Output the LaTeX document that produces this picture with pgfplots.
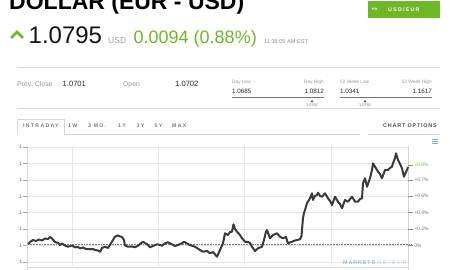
\documentclass[border=0pt]{standalone}
\usepackage{fontspec}
\setmainfont{Liberation Sans}
\newfontfamily\lsa[LetterSpace=25]{Liberation Sans}
\newfontfamily\lsb[LetterSpace=15]{Liberation Sans}
\newfontfamily\lsc[LetterSpace=18]{Liberation Sans}
\newfontfamily\lsd[LetterSpace=34]{Liberation Sans}
\newfontfamily\arrowfont{DejaVu Sans}
\usepackage{pgfplots}
\pgfplotsset{compat=1.18}
\definecolor{bigreen}{RGB}{110,184,40}
\definecolor{pline}{RGB}{58,58,58}
\definecolor{gridc}{RGB}{229,229,229}
\definecolor{rulec}{RGB}{214,214,214}
\definecolor{lblc}{RGB}{150,150,150}
\definecolor{tabc}{RGB}{120,120,120}
\definecolor{wmA}{RGB}{140,182,224}
\definecolor{wmB}{RGB}{170,203,236}
\pgfplotstableread{
x p
28.3 1.07015
30 1.07043
33 1.07067
36 1.07055
39 1.07073
42 1.07061
45 1.07085
48 1.07079
50 1.07104
52 1.07085
55 1.07043
58 1.07030
60 1.07006
62 1.07024
65 1.07000
68 1.06985
72 1.07000
75 1.06978
78 1.06982
80 1.06966
83 1.06976
86 1.06957
90 1.06954
93 1.06957
95 1.06945
98 1.06939
100 1.06924
102 1.06970
105 1.06985
108 1.06970
111 1.07027
113 1.07067
115 1.07107
118 1.07122
120 1.07110
122 1.07104
124 1.07067
125 1.07000
128 1.06985
132 1.06988
135 1.06978
138 1.06998
140 1.07018
143 1.07046
147 1.07015
150 1.06978
153 1.06994
157 1.07015
160 1.07006
162 1.06998
165 1.07027
168 1.07039
172 1.07015
175 1.06994
178 1.07006
182 1.07027
184 1.07046
187 1.07024
190 1.07006
195 1.06985
200 1.06945
203 1.06924
207 1.06933
210 1.06905
213 1.06921
217 1.06863
220 1.06945
223 1.07027
225 1.07149
228 1.07128
230 1.07165
232 1.07168
233.5 1.07259
235 1.07201
237 1.07168
240 1.07128
242 1.07088
245 1.07046
248 1.07043
250 1.07030
252 1.06985
255 1.06933
258 1.06966
262 1.06985
264 1.07067
266 1.07168
267 1.07189
270 1.07088
273 1.07128
277 1.07149
280 1.07107
283 1.07088
286 1.07104
288 1.07027
292 1.07046
295 1.07061
297 1.07067
300 1.07076
301.5 1.07116
302 1.07189
303 1.07335
304 1.07396
305 1.07433
307 1.07515
309 1.07555
310 1.07576
312 1.07637
313 1.07555
315 1.07604
317 1.07616
318 1.07644
320 1.07604
322 1.07595
325 1.07637
328 1.07576
330 1.07543
332 1.07494
335 1.07595
338 1.07534
340 1.07506
342 1.07454
345 1.07555
348 1.07534
352 1.07595
355 1.07534
358 1.07534
360 1.07567
362 1.07576
363 1.07759
365 1.07820
367 1.07717
370 1.07820
372 1.07921
373 1.08002
375 1.07961
378 1.07900
380 1.07872
382 1.07820
385 1.07921
388 1.07921
390 1.07945
392 1.07961
393 1.08002
395 1.08067
396 1.08124
398 1.08043
400 1.07994
402 1.07941
404 1.07839
406 1.07896
407 1.07921
408 1.07957
}\pricedata
\pgfplotsset{
  pageaxis/.style={
    at={(27.7pt,-266pt)}, anchor=south west,
    scale only axis, width=380.6pt, height=120pt,
    xmin=27.7, xmax=408.3, ymin=1.0675, ymax=1.082134,
    axis line style={draw=none},
    tick align=outside,
  }
}
\begin{document}
\begin{tikzpicture}[x=1pt,y=1pt]
\useasboundingbox (0,0) rectangle (450,-270);
\clip (0,0) rectangle (450,-270);
\begin{scope}[y=-1pt]
% title
\node[anchor=base west,inner sep=0,font=\fontsize{23}{23}\selectfont\bfseries] at (9,10) {DOLLAR (EUR - USD)};
% button
\fill[bigreen] (368,1) rectangle (440,18);
\node[anchor=base west,inner sep=0,text=white,font=\fontsize{7}{7}\selectfont\arrowfont] at (371.5,11.5) {↔};
\node[anchor=base west,inner sep=0,text=white,font=\fontsize{5.2}{5.2}\selectfont\lsa\bfseries] at (388,11.3) {USD/EUR};
% price row
\draw[bigreen,line width=2.8pt,line cap=butt,line join=miter] (11,38) -- (17,32) -- (23,38);
\node[anchor=base west,inner sep=0,text=black!92,font=\fontsize{24}{24}\selectfont] at (28.5,43.3) {1.0795};
\node[anchor=base west,inner sep=0,text=black!38,font=\fontsize{8.5}{8.5}\selectfont] at (108,43.3) {USD};
\node[anchor=base west,inner sep=0,text=bigreen,font=\fontsize{18}{18}\selectfont] at (133.5,43.3) {0.0094 (0.88\%)};
\node[anchor=base west,inner sep=0,text=black!45,font=\fontsize{5.6}{5.6}\selectfont] at (264,43.3) {11:36:05 AM EST};
\draw[rulec,line width=0.7pt] (17,67.3) -- (440,67.3);
% stats row
\node[anchor=base west,inner sep=0,text=lblc,font=\fontsize{6.8}{6.8}\selectfont] at (17,86) {Prev. Close};
\node[anchor=base west,inner sep=0,text=black!85,font=\fontsize{7.6}{7.6}\selectfont] at (62.5,86) {1.0701};
\node[anchor=base west,inner sep=0,text=lblc,font=\fontsize{6.8}{6.8}\selectfont] at (123,86) {Open};
\node[anchor=base west,inner sep=0,text=black!85,font=\fontsize{7.6}{7.6}\selectfont] at (175,86) {1.0702};
\node[anchor=base west,inner sep=0,text=lblc,font=\fontsize{4.8}{4.8}\selectfont] at (232,83.5) {Day Low};
\node[anchor=base east,inner sep=0,text=lblc,font=\fontsize{4.8}{4.8}\selectfont] at (324,83.5) {Day High};
\node[anchor=base west,inner sep=0,text=black!85,font=\fontsize{6.3}{6.3}\selectfont] at (232,93.5) {1.0685};
\node[anchor=base east,inner sep=0,text=black!85,font=\fontsize{6.3}{6.3}\selectfont] at (324,93.5) {1.0812};
\draw[black!55,line width=1.6pt] (232,97.5) -- (324,97.5);
\fill[black!70] (310.6,102) -- (312,100) -- (313.4,102) -- cycle;
\node[anchor=base,inner sep=0,text=black!55,font=\fontsize{3.8}{3.8}\selectfont] at (312,106.8) {1.0792};
\node[anchor=base west,inner sep=0,text=lblc,font=\fontsize{4.8}{4.8}\selectfont] at (340,83.5) {52 Week Low};
\node[anchor=base east,inner sep=0,text=lblc,font=\fontsize{4.8}{4.8}\selectfont] at (432,83.5) {52 Week High};
\node[anchor=base west,inner sep=0,text=black!85,font=\fontsize{6.3}{6.3}\selectfont] at (340,93.5) {1.0341};
\node[anchor=base east,inner sep=0,text=black!85,font=\fontsize{6.3}{6.3}\selectfont] at (432,93.5) {1.1617};
\draw[black!55,line width=1.6pt] (340,97.5) -- (432,97.5);
\fill[black!70] (363.6,102) -- (365,100) -- (366.4,102) -- cycle;
\node[anchor=base,inner sep=0,text=black!55,font=\fontsize{3.8}{3.8}\selectfont] at (365,106.8) {1.0792};
\draw[rulec,line width=0.6pt] (17,108.3) -- (440,108.3);
% tabs
\draw[rulec,line width=0.6pt] (17.5,134.3) -- (17.5,119) -- (64.3,119) -- (64.3,134.3) -- (360,134.3);
\draw[rulec,line width=0.6pt] (368,134.3) -- (440,134.3);
\node[anchor=base west,inner sep=0,text=tabc,font=\fontsize{5.2}{5.2}\selectfont\lsa\bfseries] at (23,128) {INTRADAY};
\node[anchor=base west,inner sep=0,text=tabc,font=\fontsize{5.2}{5.2}\selectfont\lsa\bfseries] at (68,128) {1W};
\node[anchor=base west,inner sep=0,text=tabc,font=\fontsize{5.2}{5.2}\selectfont\lsa\bfseries] at (88,128) {3 MO.};
\node[anchor=base west,inner sep=0,text=tabc,font=\fontsize{5.2}{5.2}\selectfont\lsa\bfseries] at (118,128) {1Y};
\node[anchor=base west,inner sep=0,text=tabc,font=\fontsize{5.2}{5.2}\selectfont\lsa\bfseries] at (136.5,128) {3Y};
\node[anchor=base west,inner sep=0,text=tabc,font=\fontsize{5.2}{5.2}\selectfont\lsa\bfseries] at (154.5,128) {5Y};
\node[anchor=base west,inner sep=0,text=tabc,font=\fontsize{5.2}{5.2}\selectfont\lsa\bfseries] at (172,128) {MAX};
\node[anchor=base east,inner sep=0,text=black!70,font=\fontsize{5.4}{5.4}\selectfont\lsb\bfseries] at (437,128) {CHART OPTIONS};
% menu icon
\foreach \yy in {139.5,141.5,143.5} \draw[wmA!80!gray,line width=0.9pt] (432,\yy) -- (438,\yy);
% navigator box
\draw[rulec,line width=0.6pt] (27.7,275) -- (27.7,267.2) -- (408.3,267.2) -- (408.3,275);
\end{scope}
% main axis
\begin{axis}[
  pageaxis,
  clip=false,
  xtick={72,158,244.5,331}, xticklabels={},
  major x tick style={draw=none},
  ytick pos=left,
  ytick={1.068,1.070,1.072,1.074,1.076,1.078,1.080,1.082},
  yticklabels={1,1,1,1,1,1,1,1},
  major tick length=4.5pt,
  major y tick style={draw=black!35,line width=0.5pt},
  yticklabel style={font=\fontsize{5}{5}\selectfont,text=black!60,inner sep=1pt},
  grid=major, major grid style={draw=gridc,line width=0.6pt},
]
\draw[rulec,line width=0.6pt] (rel axis cs:0,0) -- (rel axis cs:0,1);
\draw[rulec,line width=0.6pt] (rel axis cs:1,0) -- (rel axis cs:1,1);
\draw[black!50,line width=0.6pt,dash pattern=on 1.8pt off 1pt] (axis cs:27.7,1.0701) -- (axis cs:411.8,1.0701);
\addplot[pline,line width=2pt,line join=round,no markers] table[x=x,y=p] {\pricedata};
\node[anchor=base west,inner sep=0,font=\fontsize{5.3}{5.3}\selectfont\lsc\bfseries,text=wmA] at (axis cs:343,1.06765) {MARKETS};
\node[anchor=base west,inner sep=0,font=\fontsize{5.3}{5.3}\selectfont\lsd,text=wmB] at (axis cs:374,1.06765) {INSIDER};
\end{axis}
% right axis (percent labels)
\begin{axis}[
  pageaxis,
  xtick=\empty,
  ytick pos=right, yticklabel pos=right,
  ytick={1.070,1.072,1.074,1.076,1.078},
  yticklabels={0\%,+0.2\%,+0.4\%,+0.6\%,+0.7\%},
  extra y ticks={1.0798},
  extra y tick labels={+0.9\%},
  extra y tick style={major y tick style={draw=bigreen,line width=0.5pt}, yticklabel style={text=bigreen}},
  major tick length=5pt,
  major y tick style={draw=black!45,line width=0.5pt},
  yticklabel style={font=\fontsize{4.9}{4.9}\selectfont,text=black!55,inner sep=1pt},
]
\end{axis}
\end{tikzpicture}
\end{document}
